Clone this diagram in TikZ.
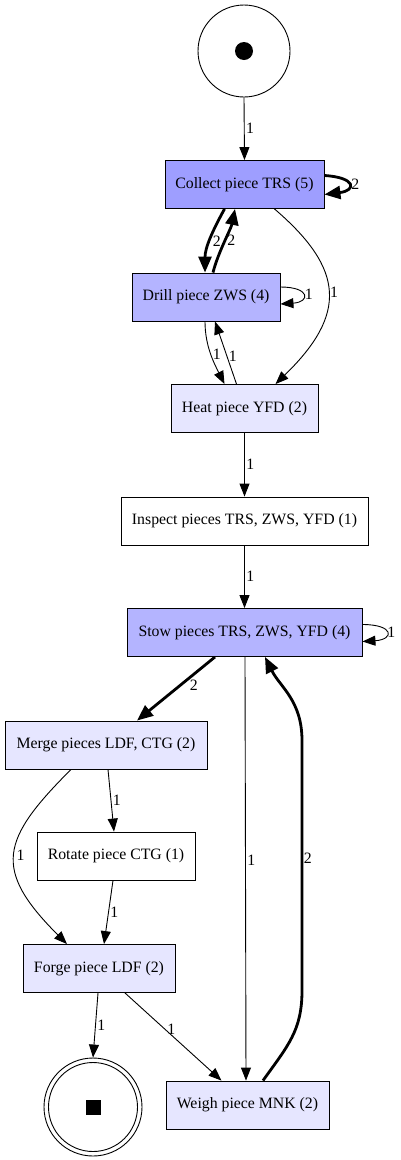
\documentclass[tikz,border=0pt]{standalone}
\usepackage{fontspec}
\setmainfont{Liberation Serif}
\usetikzlibrary{arrows.meta}
\definecolor{cA}{RGB}{158,158,255}
\definecolor{cB}{RGB}{180,180,255}
\definecolor{cC}{RGB}{230,230,255}
\tikzset{
  trans/.style={draw, line width=0.9pt, rectangle, inner sep=0pt, minimum height=48pt, font=\fontsize{15.8}{18}\selectfont},
  arc/.style={line width=0.9pt, -{Triangle[length=13pt,width=10pt]}},
  heavy/.style={line width=2.8pt, -{Triangle[length=16pt,width=13pt]}},
  lbl/.style={font=\fontsize{15.8}{18}\selectfont, inner sep=1.5pt},
  place/.style={draw, circle, line width=0.9pt, inner sep=0pt}
}
\begin{document}
\begin{tikzpicture}[x=1pt,y=-1pt]
\useasboundingbox (0,0) rectangle (400,1160);
% places
\node[place, minimum size=92pt] (start) at (244,51) {};
\fill (start.center) circle (9pt);
\node[place, minimum size=98pt] (end) at (93,1107) {};
\draw[line width=0.9pt] (end.center) circle (44.5pt);
\fill ([xshift=-7.5pt,yshift=-7.5pt]end.center) rectangle ([xshift=7.5pt,yshift=7.5pt]end.center);
% transitions
\node[trans, fill=cA, minimum width=159pt] (collect) at (244.5,184.5) {Collect piece TRS (5)};
\node[trans, fill=cB, minimum width=148pt] (drill) at (206,297) {Drill piece ZWS (4)};
\node[trans, fill=cC, minimum width=147pt] (heat) at (244.5,408.5) {Heat piece YFD (2)};
\node[trans, fill=white, minimum width=247pt] (inspect) at (244.5,521) {Inspect pieces TRS, ZWS, YFD (1)};
\node[trans, fill=cB, minimum width=235pt] (stow) at (244.5,632.5) {Stow pieces TRS, ZWS, YFD (4)};
\node[trans, fill=cC, minimum width=202pt] (merge) at (106,745) {Merge pieces LDF, CTG (2)};
\node[trans, fill=white, minimum width=158pt] (rotate) at (116,856) {Rotate piece CTG (1)};
\node[trans, fill=cC, minimum width=152pt] (forge) at (99,968.5) {Forge piece LDF (2)};
\node[trans, fill=cC, minimum width=163pt] (weigh) at (247.5,1105) {Weigh piece MNK (2)};
% arcs
\draw[arc] (start.south) -- node[lbl, right] {1} (collect.north);
\draw[heavy] ([yshift=9pt]collect.east) .. controls +(32,2) and +(32,-4) .. node[lbl, right] {2} ([yshift=-10pt]collect.east);
\draw[heavy] ([xshift=-20pt]collect.south) .. controls +(-12,22) and +(0,-25) .. node[lbl, right, pos=0.52] {2} ([xshift=-1pt]drill.north);
\draw[heavy] ([xshift=7pt]drill.north) .. controls +(5,-20) and +(-4,20) .. node[lbl, right, pos=0.5] {2} ([xshift=-9.5pt]collect.south);
\draw[arc] ([yshift=10pt]drill.east) .. controls +(30,0) and +(30,-2) .. node[lbl, right] {1} ([yshift=-7pt]drill.east);
\draw[arc] ([xshift=30pt]collect.south) .. controls +(70,60) and +(72,-70) .. node[lbl, right] {1} ([xshift=31pt]heat.north);
\draw[arc] ([xshift=-1pt]drill.south) .. controls +(0,25) and +(-10,-20) .. node[lbl, right, pos=0.5] {1} ([xshift=-20pt]heat.north);
\draw[arc] ([xshift=-8pt]heat.north) -- node[lbl, right, pos=0.45] {1} ([xshift=9pt]drill.south);
\draw[arc] (heat.south) -- node[lbl, right] {1} (inspect.north);
\draw[arc] (inspect.south) -- node[lbl, right] {1} (stow.north);
\draw[arc] ([yshift=8pt]stow.east) .. controls +(32,0) and +(32,-2) .. node[lbl, right, inner sep=0.5pt] {1} ([yshift=-9pt]stow.east);
\draw[heavy] ([xshift=-29.5pt]stow.south) -- node[lbl, right=7pt, pos=0.45] {2} ([xshift=31pt]merge.north);
\draw[arc] ([xshift=0.5pt]stow.south) -- node[lbl, right, pos=0.48] {1} ([xshift=-1.5pt]weigh.north);
\draw[heavy] ([xshift=15.5pt]weigh.north) .. controls +(25,-35) and +(0,40) .. ++(39,-90) -- node[lbl, right, pos=0.53, inner sep=0.5pt] {2} ++(0,-250) .. controls +(0,-40) and +(15,30) .. ([xshift=20.5pt]stow.south);
\draw[arc] ([xshift=2pt]merge.south) -- node[lbl, right] {1} ([xshift=-2pt]rotate.north);
\draw[arc] ([xshift=-35pt]merge.south) .. controls +(-70,70) and +(-75,-75) .. node[lbl, right] {1} ([xshift=-32pt]forge.north);
\draw[arc] ([xshift=-3pt]rotate.south) -- node[lbl, right] {1} ([xshift=5pt]forge.north);
\draw[arc] ([xshift=-1pt]forge.south) -- node[lbl, right] {1} (end.north);
\draw[arc] ([xshift=26pt]forge.south) -- node[lbl, right, pos=0.42] {1} ([xshift=-26pt]weigh.north);
\end{tikzpicture}
\end{document}
